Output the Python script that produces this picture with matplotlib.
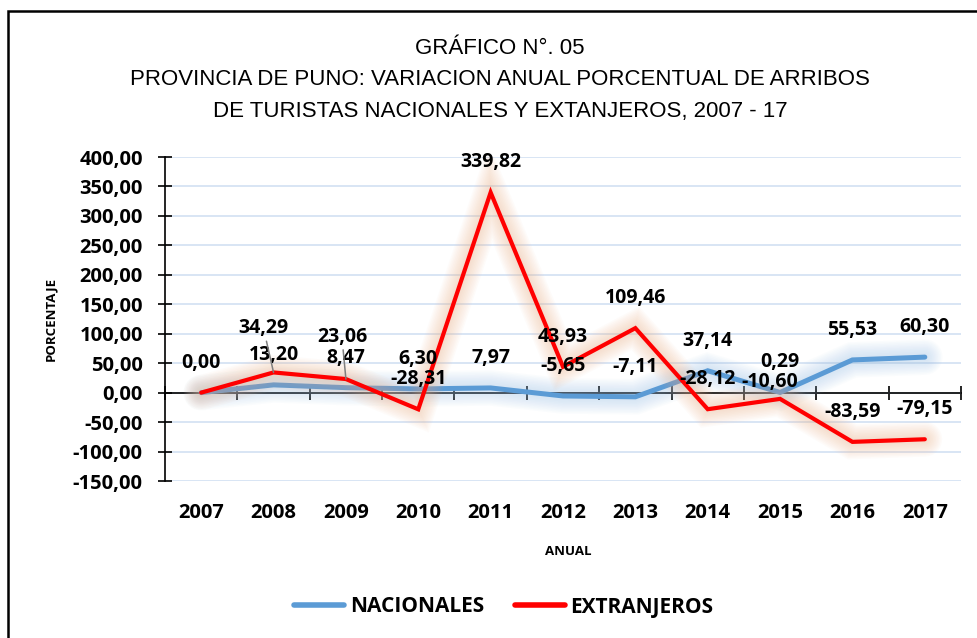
import numpy as np
import matplotlib
matplotlib.use('Agg')
import matplotlib.pyplot as plt
import matplotlib.patheffects as pe
from matplotlib.patches import Rectangle
from matplotlib.lines import Line2D

years = ['2007', '2008', '2009', '2010', '2011', '2012', '2013', '2014', '2015', '2016', '2017']
nacionales = [0.00, 13.20, 8.47, 6.30, 7.97, -5.65, -7.11, 37.14, 0.29, 55.53, 60.30]
extranjeros = [0.00, 34.29, 23.06, -28.31, 339.82, 43.93, 109.46, -28.12, -10.60, -83.59, -79.15]

title_lines = ['GRÁFICO N°. 05',
               'PROVINCIA DE PUNO: VARIACION ANUAL PORCENTUAL DE ARRIBOS',
               'DE TURISTAS NACIONALES Y EXTANJEROS, 2007 - 17']

BLUE = '#5B9BD5'
RED = '#FF0000'
BOLD = ['Open Sans', 'DejaVu Sans']
TITLE = ['Liberation Sans', 'DejaVu Sans']

W, H = 977, 638
fig = plt.figure(figsize=(W / 100, H / 100), dpi=100)
ax = fig.add_axes([165 / W, 1 - 481 / H, 796 / W, 324 / H])

# outer frame (only left/top edges visible in the picture)
fig.patches.append(Rectangle((8 / W, -0.1), 1.2, 1 - 11 / H + 0.1, transform=fig.transFigure,
                             fill=False, ec='black', lw=1.8))

for i, t in enumerate(title_lines):
    fig.text(500 / W, 1 - (48 + 31.5 * i) / H, t, ha='center', va='center',
             fontsize=16, family=TITLE)


def glow_line(vals, color, glow, lw, z):
    effects = []
    for k in range(10, 0, -1):
        effects.append(pe.Stroke(linewidth=lw + 2.2 * k, foreground=glow, alpha=0.045))
    effects.append(pe.Normal())
    x = np.arange(len(vals))
    ax.plot(x, vals, color=color, lw=lw, solid_capstyle='round',
            solid_joinstyle='miter', zorder=z, path_effects=effects)


glow_line(nacionales, BLUE, '#9DC3E6', 3.6, 3)
glow_line(extranjeros, RED, '#F4B183', 3.0, 4)

ax.set_xlim(-0.5, len(years) - 0.5)
ax.set_ylim(-150, 400)
ax.set_yticks(np.arange(-150, 401, 50))
ax.set_yticklabels([('%.2f' % v).replace('.', ',') for v in np.arange(-150, 401, 50)],
                   fontsize=14.5, fontweight='bold', family=BOLD)
ax.grid(axis='y', color='#D6E3F3', lw=1.3)
ax.set_axisbelow(True)

for s in ['top', 'right']:
    ax.spines[s].set_visible(False)
ax.spines['left'].set_linewidth(1.2)
ax.spines['bottom'].set_position(('data', 0))
ax.spines['bottom'].set_linewidth(1.2)
ax.tick_params(axis='y', direction='inout', length=10, width=1.2, pad=11)
ax.set_xticks([])
ax.set_xticks(np.arange(-0.5, len(years)), minor=True)
ax.tick_params(axis='x', which='minor', direction='inout', length=10, width=1.2)

sec = ax.secondary_xaxis('bottom')
sec.set_xticks(np.arange(len(years)))
sec.set_xticklabels(years, fontsize=14.5, fontweight='bold', family=BOLD)
sec.tick_params(length=0, pad=16)
sec.spines['bottom'].set_visible(False)

ax.set_ylabel('PORCENTAJE', fontsize=9.5, fontweight='bold', family=BOLD)
ax.yaxis.set_label_coords(-0.136, 0.5)
ax.set_xlabel('ANUAL', fontsize=9.5, fontweight='bold', family=BOLD)
ax.xaxis.set_label_coords(0.506, -0.198)

lab_kw = dict(textcoords='offset pixels', ha='center', va='center',
              fontsize=14, fontweight='bold', family=BOLD, zorder=6)
for i, v in enumerate(nacionales):
    ax.annotate(('%.2f' % v).replace('.', ','), (i, v), xytext=(0, 30), **lab_kw)

# labels Excel moved off their default spot
moved = {1: (-10, 44), 2: (-4, 42), 8: (-10, 17)}
for i, v in enumerate(extranjeros):
    if i == 0:
        continue
    off = moved.get(i, (0, 30))
    arrow = None
    if i in (1, 2):
        arrow = dict(arrowstyle='-', color='#7F7F7F', lw=1.1, shrinkA=0, shrinkB=0)
    ax.annotate(('%.2f' % v).replace('.', ','), (i, v), xytext=off, arrowprops=arrow, **lab_kw)

handles = [Line2D([], [], color=BLUE, lw=4, solid_capstyle='round'),
           Line2D([], [], color=RED, lw=4, solid_capstyle='round')]
fig.legend(handles, ['NACIONALES', 'EXTRANJEROS'], loc='center', ncol=2,
           bbox_to_anchor=(504 / W, 1 - 607 / H), frameon=False,
           prop=dict(size=15, weight='bold', family=BOLD),
           handlelength=2.4, handletextpad=0.25, columnspacing=1.5)

fig.savefig('out.png', dpi=100, facecolor='white')
